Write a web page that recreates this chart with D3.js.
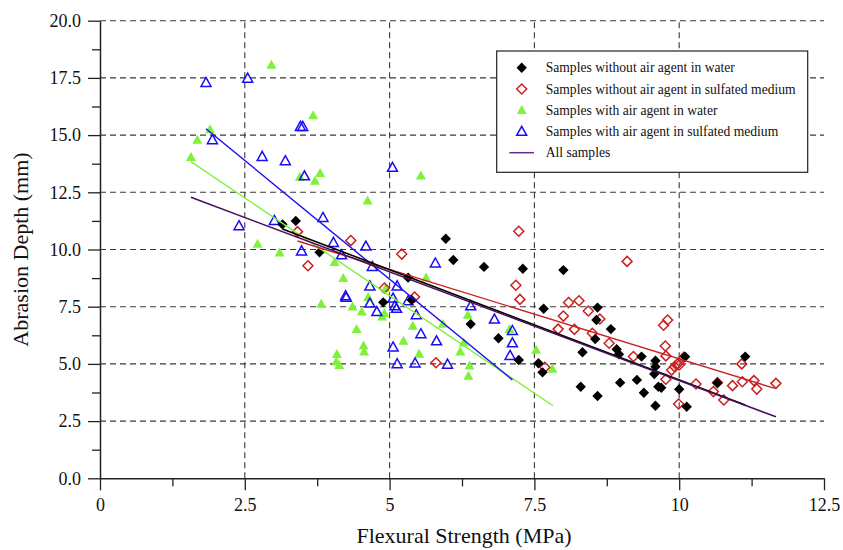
<!DOCTYPE html>
<html>
<head>
<meta charset="utf-8">
<script src="https://cdn.jsdelivr.net/npm/d3@7"></script>
<style>
  html, body { margin: 0; padding: 0; background: #fff; }
  svg { display: block; }
  text { font-family: "Liberation Serif", "Times New Roman", serif; fill: #111; }
</style>
</head>
<body>
<script>
// ---------- DATA ----------
const seriesNames = [
  "Samples without air agent in water",
  "Samples without air agent in sulfated medium",
  "Samples with air agent in water",
  "Samples with air agent in sulfated medium",
  "All samples"
];
const xTicks = [0, 2.5, 5, 7.5, 10, 12.5];
const xTickLabels = ["0", "2.5", "5", "7.5", "10", "12.5"];
const yTicks = [0, 2.5, 5, 7.5, 10, 12.5, 15, 17.5, 20];
const yTickLabels = ["0.0", "2.5", "5.0", "7.5", "10.0", "12.5", "15.0", "17.5", "20.0"];

// [flexural strength, abrasion depth]
const noAirWater = [
  [3.15,11.10],[3.38,11.25],[3.79,9.88],[4.89,7.69],[5.97,10.47],[6.10,9.54],[6.63,9.24],
  [7.30,9.16],[5.32,8.77],[5.38,7.79],[7.66,7.41],[6.40,6.74],[6.88,6.12],[7.23,5.17],
  [7.57,5.03],[7.64,4.63],[8.00,9.10],[8.59,7.46],[8.57,6.92],[8.82,6.52],[8.55,6.09],
  [8.33,5.51],[8.92,5.64],[8.96,5.42],[9.35,5.32],[9.59,5.14],[9.59,4.88],[9.57,4.56],
  [10.10,5.32],[9.27,4.30],[8.98,4.18],[8.30,4.00],[9.64,4.00],[9.69,3.96],[9.39,3.74],
  [8.59,3.60],[10.00,3.89],[9.59,3.17],[10.13,3.13],[10.66,4.18],[11.14,5.32]
];
const noAirSulfate = [
  [3.41,10.78],[4.33,10.39],[3.59,9.29],[4.91,8.32],[5.21,9.80],[7.23,10.80],[7.18,8.44],
  [7.25,7.82],[5.43,7.92],[5.80,5.05],[7.68,4.85],[7.91,6.52],[9.10,9.48],[8.09,7.68],
  [8.27,7.76],[8.00,7.09],[8.43,7.31],[8.63,6.96],[8.19,6.51],[8.50,6.34],[8.79,5.90],
  [9.21,5.32],[9.73,6.69],[9.80,6.92],[9.76,5.78],[9.77,5.35],[9.97,5.00],[9.92,4.88],
  [10.00,4.95],[9.87,4.73],[9.77,4.33],[10.08,5.29],[9.99,3.25],[10.29,4.12],[10.66,4.18],
  [10.59,3.79],[10.77,3.42],[10.92,4.05],[11.09,4.22],[11.08,5.00],[11.29,4.27],[11.34,3.90],
  [11.67,4.15]
];
const airWater = [
  [2.96,18.06],[3.68,15.86],[1.90,15.25],[1.68,14.79],[1.57,14.03],[3.45,13.17],[3.80,13.33],
  [3.71,12.99],[4.62,12.13],[5.54,13.23],[2.72,10.24],[3.10,9.86],[4.05,9.44],[4.20,8.74],
  [3.82,7.62],[4.63,7.91],[4.36,7.50],[4.52,7.28],[4.87,7.06],[4.91,7.21],[4.43,6.52],
  [4.55,5.80],[4.56,5.53],[4.09,5.42],[4.08,5.10],[4.13,4.94],[4.93,8.30],[5.63,8.77],
  [6.35,7.14],[5.40,6.66],[5.92,6.74],[5.24,6.00],[7.07,6.52],[6.28,5.93],[5.51,5.43],
  [6.22,5.53],[6.38,4.92],[6.36,4.47],[7.81,4.78],[7.53,5.61]
];
const airSulfate = [
  [1.83,17.29],[2.55,17.48],[3.46,15.37],[3.50,15.37],[1.94,14.79],[2.80,14.06],[3.20,13.87],
  [3.53,13.21],[5.05,13.58],[3.85,11.39],[3.01,11.26],[2.40,11.03],[3.48,9.93],[4.03,10.30],
  [4.17,9.76],[4.59,10.14],[4.70,9.25],[4.66,8.40],[4.24,7.97],[4.25,7.90],[4.66,7.65],
  [4.78,7.28],[5.06,7.87],[5.09,7.53],[5.12,7.42],[5.06,5.73],[5.13,5.00],[5.79,9.40],
  [5.13,8.40],[5.32,7.75],[6.40,7.53],[6.81,6.95],[5.46,7.14],[5.54,6.31],[5.81,6.00],
  [7.12,6.45],[7.12,5.91],[7.08,5.36],[5.44,5.03],[6.00,4.98]
];
// regression line endpoints [x, y]
const fitNoAirWater = [[3.15,10.90],[11.14,3.20]];
const fitNoAirSulfate = [[3.41,10.37],[11.65,3.93]];
const fitAirWater = [[1.57,13.84],[7.82,3.17]];
const fitAirSulfate = [[1.83,15.28],[7.12,4.30]];
const fitAll = [[1.57,12.28],[11.67,2.69]];

// ---------- STYLE ----------
const colBlack = "#000000", colRed = "#cc2020", colGreen = "#7ef23a", colBlue = "#1a0cf5", colPurple = "#4a0f5c";

const W = 843, H = 550;
const svg = d3.select("body").append("svg").attr("width", W).attr("height", H);

const x = d3.scaleLinear().domain([0, 12.5]).range([100, 824]);
const y = d3.scaleLinear().domain([0, 20]).range([478.3, 20.7]);

// gridlines
const grid = svg.append("g");
grid.selectAll(".gy").data(yTicks.filter(d => d > 0)).enter().append("line")
  .attr("x1", x(0)).attr("x2", x(12.5))
  .attr("y1", d => y(d)).attr("y2", d => y(d))
  .attr("stroke", "#3a3a3a").attr("stroke-width", 1.1).attr("stroke-dasharray", "6,4");
grid.selectAll(".gx").data(xTicks.filter(d => d > 0 && d < 12.5)).enter().append("line")
  .attr("x1", d => x(d)).attr("x2", d => x(d))
  .attr("y1", y(0)).attr("y2", y(20))
  .attr("stroke", "#3a3a3a").attr("stroke-width", 1.1).attr("stroke-dasharray", "6,4");

// axes
const xMinor = d3.range(0, 12.51, 1.25).filter(v => Math.abs(v / 2.5 - Math.round(v / 2.5)) > 0.01);
const yMinor = d3.range(0, 20.01, 1.25).filter(v => Math.abs(v / 2.5 - Math.round(v / 2.5)) > 0.01);

const xAxis = d3.axisBottom(x).tickValues(xTicks).tickFormat((d, i) => xTickLabels[i]).tickSize(12).tickSizeOuter(0);
const gx = svg.append("g").attr("transform", `translate(0,${y(0)})`).call(xAxis);
gx.select(".domain").attr("stroke", "#222").attr("stroke-width", 1.5);
gx.selectAll(".tick line").attr("stroke", "#222").attr("stroke-width", 1.3);
gx.selectAll(".tick text").attr("font-size", 18).attr("fill", "#111").attr("dy", "0.7em").attr("y", 20);
svg.append("g").attr("transform", `translate(0,${y(0)})`)
  .call(d3.axisBottom(x).tickValues(xMinor).tickSize(8).tickFormat(""))
  .call(g => { g.select(".domain").remove(); g.selectAll(".tick line").attr("stroke", "#222").attr("stroke-width", 1.3); });

const yAxis = d3.axisLeft(y).tickValues(yTicks).tickFormat((d, i) => yTickLabels[i]).tickSize(12).tickSizeOuter(0);
const gy = svg.append("g").attr("transform", `translate(${x(0)},0)`).call(yAxis);
gy.select(".domain").attr("stroke", "#222").attr("stroke-width", 1.5);
gy.selectAll(".tick line").attr("stroke", "#222").attr("stroke-width", 1.3);
gy.selectAll(".tick text").attr("font-size", 18).attr("fill", "#111").attr("x", -19);
svg.append("g").attr("transform", `translate(${x(0)},0)`)
  .call(d3.axisLeft(y).tickValues(yMinor).tickSize(8).tickFormat(""))
  .call(g => { g.select(".domain").remove(); g.selectAll(".tick line").attr("stroke", "#222").attr("stroke-width", 1.3); });

// axis titles
svg.append("text").attr("x", 464).attr("y", 543).attr("text-anchor", "middle")
  .attr("font-size", 22).text("Flexural Strength (MPa)");
svg.append("text").attr("transform", `translate(28,${(y(0) + y(20)) / 2}) rotate(-90)`)
  .attr("text-anchor", "middle").attr("font-size", 22).text("Abrasion Depth (mm)");

// symbols
const diamond = r => `M0,${-r}L${r},0L0,${r}L${-r},0Z`;
const triangle = (w, h) => `M0,${-h * 0.58}L${w / 2},${h * 0.42}L${-w / 2},${h * 0.42}Z`;

function drawPoints(data, path, fill, stroke, sw) {
  svg.append("g").selectAll("path").data(data).enter().append("path")
    .attr("d", path)
    .attr("transform", d => `translate(${x(d[0])},${y(d[1])})`)
    .attr("fill", fill).attr("stroke", stroke).attr("stroke-width", sw);
}
drawPoints(airWater, triangle(10, 9), colGreen, "none", 0);
drawPoints(airSulfate, triangle(10, 9), "none", colBlue, 1.5);
drawPoints(noAirSulfate, diamond(5), "none", colRed, 1.5);
drawPoints(noAirWater, diamond(5.2), colBlack, "none", 0);

// fit lines
const line = d3.line().x(d => x(d[0])).y(d => y(d[1]));
function drawFit(data, color, w) {
  svg.append("path").datum(data).attr("d", line).attr("fill", "none").attr("stroke", color).attr("stroke-width", w);
}
drawFit(fitAirWater, colGreen, 1.4);
drawFit(fitAirSulfate, colBlue, 1.4);
drawFit(fitNoAirSulfate, colRed, 1.4);
drawFit(fitNoAirWater, colBlack, 1.6);
drawFit(fitAll, colPurple, 1.6);

// legend
const lg = svg.append("g");
lg.append("rect").attr("x", 496.7).attr("y", 51).attr("width", 311).attr("height", 121.3)
  .attr("fill", "#fff").attr("stroke", "#222").attr("stroke-width", 1.2);
const rowsY = [67.7, 89, 110.3, 131.5, 152.7];
const mx = 521.7, tx = 545.7;
lg.append("path").attr("d", diamond(5.2)).attr("transform", `translate(${mx},${rowsY[0]})`).attr("fill", colBlack);
lg.append("path").attr("d", diamond(5)).attr("transform", `translate(${mx},${rowsY[1]})`).attr("fill", "none").attr("stroke", colRed).attr("stroke-width", 1.5);
lg.append("path").attr("d", triangle(10, 9)).attr("transform", `translate(${mx},${rowsY[2]})`).attr("fill", colGreen);
lg.append("path").attr("d", triangle(10, 9)).attr("transform", `translate(${mx},${rowsY[3]})`).attr("fill", "none").attr("stroke", colBlue).attr("stroke-width", 1.5);
lg.append("line").attr("x1", 509.3).attr("x2", 534).attr("y1", rowsY[4]).attr("y2", rowsY[4]).attr("stroke", "#6a2d85").attr("stroke-width", 1.5);
lg.selectAll("text.lt").data(seriesNames).enter().append("text")
  .attr("x", tx).attr("y", (d, i) => rowsY[i] + 4.7).attr("font-size", 13.6).text(d => d);
</script>
</body>
</html>
